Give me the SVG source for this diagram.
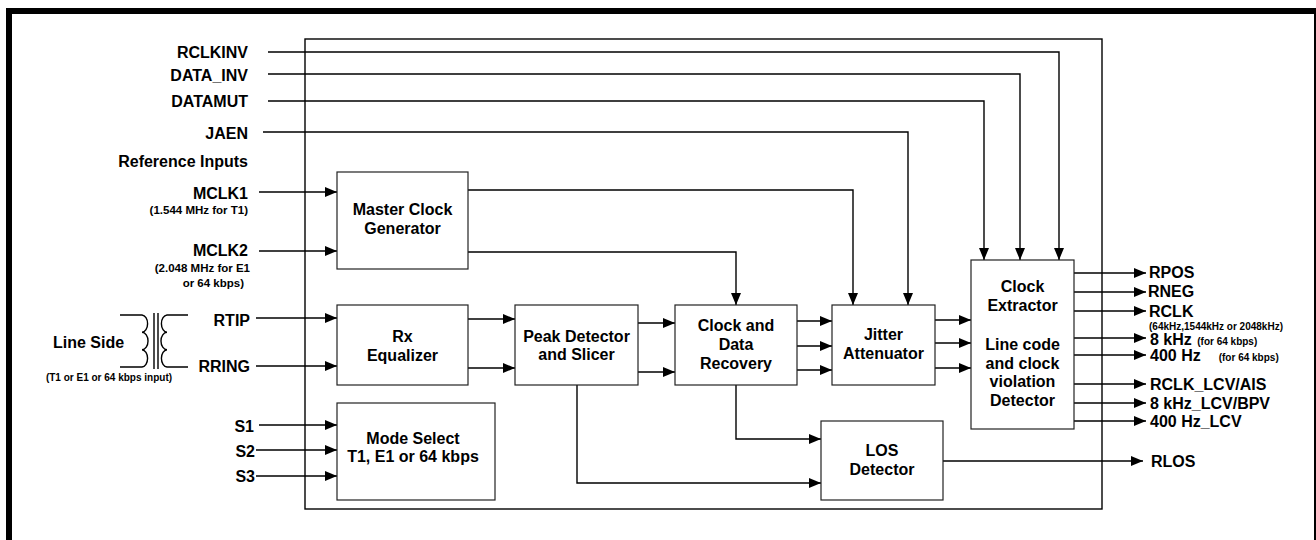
<svg xmlns="http://www.w3.org/2000/svg" width="1316" height="540" viewBox="0 0 1316 540">
<style>
text{font-family:"Liberation Sans",Arial,sans-serif;font-weight:bold;fill:#000}
.t{font-size:16px}
.s{font-size:10px}
.m{font-size:11.5px}
.c{text-anchor:middle}
.e{text-anchor:end}
.box{fill:#fff;stroke:#222;stroke-width:1.2}
.ln{fill:none;stroke:#000;stroke-width:1.4}
.ar{marker-end:url(#ah)}
</style>
<defs>
<marker id="ah" markerUnits="userSpaceOnUse" markerWidth="12" markerHeight="10" refX="12" refY="5" orient="auto">
<path d="M0,0 L12,5 L0,10 z" fill="#000"/>
</marker>
</defs>
<rect width="1316" height="540" fill="#fff"/>
<path d="M9,540 V11 H1317 V540" fill="none" stroke="#000" stroke-width="6"/>
<rect id="chip" x="305" y="39" width="797" height="470" fill="none" stroke="#000" stroke-width="1.4"/>

<g id="connectors">
<path class="ln ar" d="M268,52 H1059 V260"/>
<path class="ln ar" d="M268,74 H1020 V260"/>
<path class="ln ar" d="M268,101 H984 V260"/>
<path class="ln ar" d="M263,132 H908 V305"/>
<path class="ln ar" d="M259,192 H337"/>
<path class="ln ar" d="M259,251 H337"/>
<path class="ln ar" d="M256,318 H337"/>
<path class="ln ar" d="M256,366 H337"/>
<path class="ln ar" d="M259,425 H337"/>
<path class="ln ar" d="M256,450 H337"/>
<path class="ln ar" d="M256,476 H337"/>
<path class="ln ar" d="M468,190 H853 V305"/>
<path class="ln ar" d="M468,252 H736 V305"/>
<path class="ln ar" d="M468,319 H515"/>
<path class="ln ar" d="M468,368 H515"/>
<path class="ln ar" d="M638,323 H675"/>
<path class="ln ar" d="M638,372 H675"/>
<path class="ln ar" d="M797,321 H832"/>
<path class="ln ar" d="M797,346 H832"/>
<path class="ln ar" d="M797,370 H832"/>
<path class="ln ar" d="M935,320 H971"/>
<path class="ln ar" d="M935,343 H971"/>
<path class="ln ar" d="M935,368 H971"/>
<path class="ln ar" d="M736,385 V439 H821"/>
<path class="ln ar" d="M577,385 V483 H821"/>
<path class="ln ar" d="M943,461 H1143"/>
<path class="ln ar" d="M1074,273 H1146"/>
<path class="ln ar" d="M1074,292 H1146"/>
<path class="ln ar" d="M1074,311 H1146"/>
<path class="ln ar" d="M1074,338 H1146"/>
<path class="ln ar" d="M1074,355 H1146"/>
<path class="ln ar" d="M1074,384 H1146"/>
<path class="ln ar" d="M1074,403 H1146"/>
<path class="ln ar" d="M1074,421 H1146"/>
</g>

<g id="transformer" fill="none" stroke="#000" stroke-width="1.4">
<path d="M120,315 H142 A6,8.67 0 0 1 142,332.3 A6,8.67 0 0 1 142,349.7 A6,8.67 0 0 1 142,367 H120"/>
<path d="M154,313 V369 M158,313 V369"/>
<path d="M188,315 H167 A6,8.67 0 0 0 167,332.3 A6,8.67 0 0 0 167,349.7 A6,8.67 0 0 0 167,367 H188"/>
</g>

<g id="inputs">
<text class="t e" x="248" y="57.5">RCLKINV</text>
<text class="t e" x="248" y="81">DATA_INV</text>
<text class="t e" x="248" y="107.3">DATAMUT</text>
<text class="t e" x="248" y="138.5">JAEN</text>
<text class="t e" x="248" y="166.5">Reference Inputs</text>
<text class="t e" x="248" y="199">MCLK1</text>
<text class="m e" x="248" y="214">(1.544 MHz for T1)</text>
<text class="t e" x="248" y="256">MCLK2</text>
<text class="m e" x="250" y="272">(2.048 MHz for E1</text>
<text class="m e" x="244" y="287">or 64 kbps)</text>
<text class="t e" x="250" y="326">RTIP</text>
<text class="t e" x="250" y="371.5">RRING</text>
<text class="t c" x="88.5" y="347.7">Line Side</text>
<text class="s c" x="109" y="381">(T1 or E1 or 64 kbps input)</text>
<text class="t e" x="254" y="432">S1</text>
<text class="t e" x="255" y="456.7">S2</text>
<text class="t e" x="255" y="481.7">S3</text>
</g>

<g id="master-clock">
<rect class="box" x="337" y="172" width="131" height="97"/>
<text class="t c" x="402.5" y="215">Master Clock</text>
<text class="t c" x="402.5" y="233.5">Generator</text>
</g>
<g id="rx-equalizer">
<rect class="box" x="337" y="305" width="131" height="80"/>
<text class="t c" x="402.5" y="342">Rx</text>
<text class="t c" x="402.5" y="360.5">Equalizer</text>
</g>
<g id="peak-detector">
<rect class="box" x="515" y="305" width="123" height="80"/>
<text class="t c" x="576.5" y="341.7">Peak Detector</text>
<text class="t c" x="576.5" y="360">and Slicer</text>
</g>
<g id="cdr">
<rect class="box" x="675" y="305" width="122" height="80"/>
<text class="t c" x="736" y="331">Clock and</text>
<text class="t c" x="736" y="350">Data</text>
<text class="t c" x="736" y="369">Recovery</text>
</g>
<g id="jitter">
<rect class="box" x="832" y="305" width="103" height="80"/>
<text class="t c" x="883.5" y="340">Jitter</text>
<text class="t c" x="883.5" y="358.5">Attenuator</text>
</g>
<g id="clock-extractor">
<rect class="box" x="971" y="260" width="103" height="169"/>
<text class="t c" x="1022.5" y="292">Clock</text>
<text class="t c" x="1022.5" y="311">Extractor</text>
<text class="t c" x="1022.5" y="350">Line code</text>
<text class="t c" x="1022.5" y="368.5">and clock</text>
<text class="t c" x="1022.5" y="387">violation</text>
<text class="t c" x="1022.5" y="405.5">Detector</text>
</g>
<g id="mode-select">
<rect class="box" x="337" y="403" width="158" height="97"/>
<text class="t c" x="413" y="443.5">Mode Select</text>
<text class="t c" x="413" y="461.7">T1, E1 or 64 kbps</text>
</g>
<g id="los">
<rect class="box" x="821" y="421" width="122" height="79"/>
<text class="t c" x="882" y="456">LOS</text>
<text class="t c" x="882" y="475">Detector</text>
</g>

<g id="outputs">
<text class="t" x="1149" y="278">RPOS</text>
<text class="t" x="1148" y="297">RNEG</text>
<text class="t" x="1149" y="317">RCLK</text>
<text class="s" x="1149" y="330">(64kHz,1544kHz or 2048kHz)</text>
<text class="t" x="1150" y="345">8 kHz <tspan class="s" dx="1">(for 64 kbps)</tspan></text>
<text class="t" x="1150" y="361">400 Hz<tspan class="s" dx="18">(for 64 kbps)</tspan></text>
<text class="t" x="1150" y="390">RCLK_LCV/AIS</text>
<text class="t" x="1150" y="408.5">8 kHz_LCV/BPV</text>
<text class="t" x="1150" y="427">400 Hz_LCV</text>
<text class="t" x="1151" y="467">RLOS</text>
</g>
</svg>
